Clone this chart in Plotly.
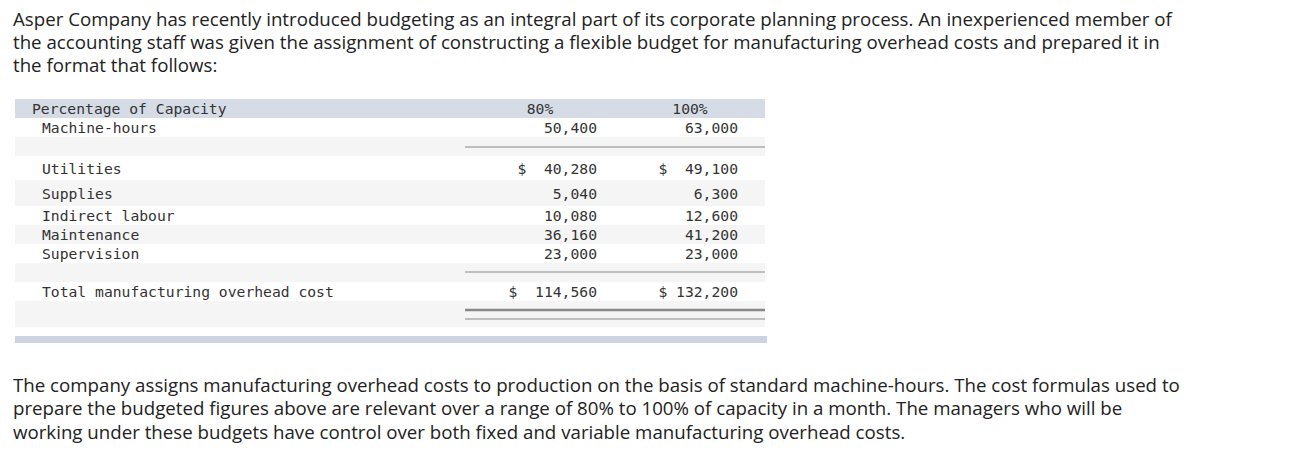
import plotly.graph_objects as go

# ---- data ----
intro_lines = [
    "Asper Company has recently introduced budgeting as an integral part of its corporate planning process. An inexperienced member of",
    "the accounting staff was given the assignment of constructing a flexible budget for manufacturing overhead costs and prepared it in",
    "the format that follows:",
]
outro_lines = [
    "The company assigns manufacturing overhead costs to production on the basis of standard machine-hours. The cost formulas used to",
    "prepare the budgeted figures above are relevant over a range of 80% to 100% of capacity in a month. The managers who will be",
    "working under these budgets have control over both fixed and variable manufacturing overhead costs.",
]

capacity = ["80%", "100%"]
machine_hours = [50400, 63000]
cost_items = ["Utilities", "Supplies", "Indirect labour", "Maintenance", "Supervision"]
cost_80 = [40280, 5040, 10080, 36160, 23000]
cost_100 = [49100, 6300, 12600, 41200, 23000]
total_label = "Total manufacturing overhead cost"
total_80 = 114560
total_100 = 132200

# ---- layout helpers (pixel space) ----
# row bands: (top, bottom, fill)
bands = [
    (99, 118, "#d6dce6"),   # header
    (118, 137, "#ffffff"),  # machine-hours
    (137, 156, "#f5f5f5"),
    (156, 180, "#ffffff"),  # utilities
    (180, 206, "#f5f5f5"),  # supplies
    (206, 225, "#ffffff"),
    (225, 244, "#f5f5f5"),
    (244, 263, "#ffffff"),
    (263, 282, "#f5f5f5"),
    (282, 301, "#ffffff"),  # total
    (301, 327, "#f5f5f5"),
    (336, 343, "#cdd4e0"),  # bottom bar
]
cost_rows_y = [170, 195, 217, 236, 255]
header_y = 110
mh_y = 129
total_y = 293
col_right = [597, 738]
col_center = [540, 690]
mono = dict(family="DejaVu Sans Mono", size=14.7, color="#333333")


def money(v, dollar=False, width=9):
    s = f"{v:,}"
    if dollar:
        return "$" + s.rjust(width - 1)
    return s


fig = go.Figure()

shapes = []
for y0, y1, c in bands:
    x1 = 767 if y0 == 336 else 765
    shapes.append(dict(type="rect", x0=15, x1=x1, y0=y0, y1=y1, fillcolor=c,
                       line=dict(width=0), layer="below"))
for y, w in [(147, 1.2), (272, 1.2), (310, 2.5), (319, 1.2)]:
    shapes.append(dict(type="line", x0=465, x1=765, y0=y, y1=y,
                       line=dict(color="#888888", width=w)))

# left labels
fig.add_trace(go.Scatter(
    x=[32, 42] + [42] * len(cost_items) + [42],
    y=[header_y, mh_y] + cost_rows_y + [total_y],
    text=["Percentage of Capacity", "Machine-hours"] + cost_items + [total_label],
    mode="text", textposition="middle right", textfont=mono, hoverinfo="skip"))

# header
fig.add_trace(go.Scatter(
    x=col_center, y=[header_y, header_y], text=capacity,
    mode="text", textposition="middle center", textfont=mono, hoverinfo="skip"))

# number columns
for i, vals in enumerate([cost_80, cost_100]):
    mh = machine_hours[i]
    tot = [total_80, total_100][i]
    txt = [money(mh)]
    txt += [money(v, dollar=(k == 0)) for k, v in enumerate(vals)]
    txt += [money(tot, dollar=True, width=10 if i == 0 else 9)]
    fig.add_trace(go.Scatter(
        x=[col_right[i]] * len(txt),
        y=[mh_y] + cost_rows_y + [total_y],
        text=txt, mode="text", textposition="middle left",
        textfont=mono, hoverinfo="skip"))

para_font = dict(family="Open Sans", size=18.7, color="#222222")
annotations = []
for k, line in enumerate(intro_lines):
    annotations.append(dict(x=11, y=18 + 23 * k, text=line, showarrow=False,
                            xanchor="left", yanchor="middle", font=para_font))
for k, line in enumerate(outro_lines):
    annotations.append(dict(x=11, y=384 + 23.5 * k, text=line, showarrow=False,
                            xanchor="left", yanchor="middle", font=para_font))

fig.update_layout(
    width=1315, height=463,
    margin=dict(l=0, r=0, t=0, b=0),
    plot_bgcolor="white", paper_bgcolor="white",
    showlegend=False,
    xaxis=dict(range=[0, 1315], visible=False, fixedrange=True),
    yaxis=dict(range=[463, 0], visible=False, fixedrange=True),
    shapes=shapes, annotations=annotations,
)

# drop the default 8px body margin so the figure fills the window
fig.write_html("out.html", config={"displayModeBar": False},
               post_script="document.body.style.margin='0';")
